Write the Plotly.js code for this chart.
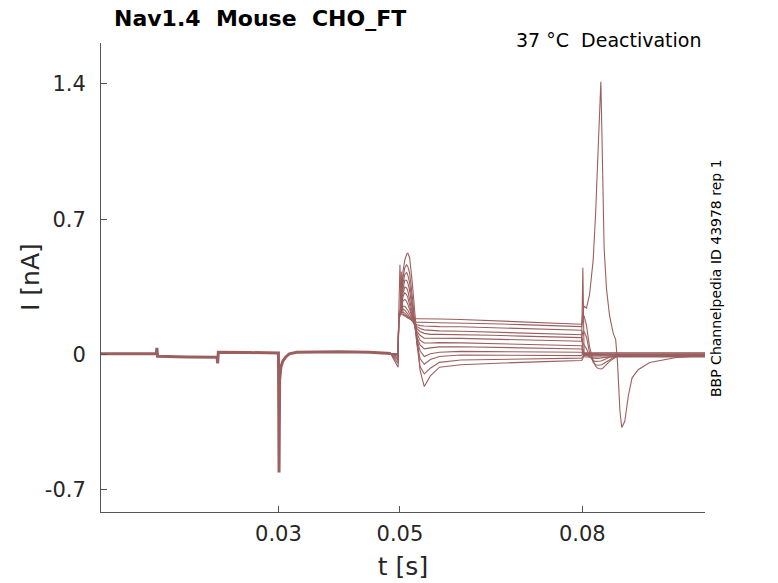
<!DOCTYPE html>
<html>
<head>
<meta charset="utf-8">
<script src="https://cdn.plot.ly/plotly-3.0.1.min.js"></script>
<style>html,body{margin:0;padding:0;background:#fff;}#chart{width:778px;height:583px;}</style>
</head>
<body>
<div id="chart"></div>
<script>
// ---- Data ----
// Common part of all sweeps (0 s .. 0.0485 s)
const tPre = [0.0000, 0.0099, 0.0100, 0.0101, 0.0150, 0.0199, 0.0200, 0.0201, 0.0250, 0.0300, 0.0301, 0.03015, 0.0302, 0.0304, 0.0307, 0.0312, 0.0318, 0.0330, 0.0400, 0.0450, 0.0485];
const iPre = [0.005, 0.005, 0.035, -0.008, -0.012, -0.014, -0.045, 0.012, 0.011, 0.008, -0.61, -0.25, -0.13, -0.065, -0.035, -0.012, 0.004, 0.012, 0.015, 0.012, 0.006];

// Sweep-specific part (0.0485 s .. end), shared time grid
const tPost = [0.0485, 0.0497, 0.0498, 0.0500, 0.0502, 0.0505, 0.0508, 0.0511, 0.0513, 0.0516, 0.0520, 0.0524, 0.0528, 0.0533, 0.0540, 0.0550, 0.0565,
  0.0600, 0.0650, 0.0700, 0.0750, 0.0799,
  0.0801, 0.0803, 0.0807, 0.0812, 0.0818, 0.0822, 0.0826, 0.0829, 0.08306, 0.0832, 0.0834, 0.0836, 0.0840, 0.0845, 0.0851, 0.0855, 0.0858, 0.0862, 0.0865, 0.0870, 0.0876, 0.0882, 0.0892, 0.0911, 0.0955, 0.1002];

const sweep1 = [0.006, 0.004,
  0.21, 0.465, 0.21, 0.205, 0.20, 0.195, 0.19, 0.19, 0.188, 0.187, 0.186, 0.186, 0.186, 0.185, 0.184,
  0.182, 0.176, 0.170, 0.163, 0.157,
  0.22, 0.25, 0.241, 0.31, 0.49, 0.73, 1.05, 1.317, 1.412, 1.2, 0.80, 0.55, 0.336, 0.20, 0.11, 0.078, -0.04, -0.29, -0.377, -0.345, -0.21, -0.12, -0.078, -0.041, -0.015, -0.005];
const sweep2 = [0.005, 0.003,
  0.21, 0.21, 0.43, 0.21, 0.205, 0.20, 0.19, 0.185, 0.175, 0.17, 0.168, 0.167, 0.166, 0.166, 0.165,
  0.164, 0.160, 0.155, 0.150, 0.145,
  0.18, 0.20, 0.15, 0.04, -0.03, -0.06, -0.072, -0.075, -0.075, -0.074, -0.07, -0.065, -0.05, -0.035, -0.02, -0.012, -0.008, -0.005, -0.004, -0.003, -0.002, -0.002, -0.001, 0.0, 0.002, 0.003];
const sweep3 = [0.004, 0.002,
  0.21, 0.21, 0.215, 0.22, 0.215, 0.205, 0.195, 0.185, 0.17, 0.16, 0.155, 0.15, 0.148, 0.146, 0.145,
  0.144, 0.140, 0.135, 0.130, 0.126,
  0.10, 0.12, 0.09, 0.01, -0.04, -0.052, -0.055, -0.055, -0.054, -0.052, -0.048, -0.044, -0.035, -0.025, -0.014, -0.008, -0.005, -0.003, -0.002, -0.001, 0.0, 0.0, 0.0, 0.0, -0.002, -0.003];
const sweep4 = [0.004, 0.001,
  0.20, 0.21, 0.22, 0.235, 0.23, 0.22, 0.21, 0.195, 0.175, 0.16, 0.145, 0.135, 0.128, 0.125, 0.123,
  0.121, 0.117, 0.112, 0.107, 0.103,
  0.06, 0.05, 0.03, -0.01, -0.03, -0.035, -0.035, -0.034, -0.033, -0.031, -0.028, -0.025, -0.019, -0.013, -0.008, -0.006, -0.005, -0.005, -0.005, -0.006, -0.006, -0.006, -0.006, -0.006, -0.006, -0.006];
const sweep5 = [0.003, 0.0,
  0.20, 0.21, 0.23, 0.25, 0.25, 0.24, 0.23, 0.21, 0.18, 0.155, 0.135, 0.12, 0.11, 0.105, 0.105,
  0.104, 0.100, 0.096, 0.092, 0.088,
  0.03, 0.01, 0.0, -0.012, -0.018, -0.02, -0.02, -0.019, -0.018, -0.017, -0.016, -0.015, -0.013, -0.011, -0.01, -0.01, -0.01, -0.01, -0.01, -0.01, -0.01, -0.01, -0.01, -0.01, -0.01, -0.01];
const sweep6 = [0.005, 0.0,
  0.20, 0.21, 0.23, 0.28, 0.285, 0.275, 0.26, 0.23, 0.19, 0.15, 0.12, 0.10, 0.085, 0.085, 0.085,
  0.084, 0.080, 0.076, 0.072, 0.069,
  0.45, 0.0, 0.005, 0.006, 0.007, 0.007, 0.007, 0.007, 0.007, 0.007, 0.007, 0.007, 0.007, 0.007, 0.007, 0.007, 0.007, 0.007, 0.007, 0.007, 0.007, 0.007, 0.007, 0.007, 0.007, 0.007];
const sweep7 = [0.004, -0.005,
  0.20, 0.21, 0.24, 0.30, 0.32, 0.31, 0.295, 0.26, 0.20, 0.15, 0.11, 0.075, 0.06, 0.06, 0.062,
  0.061, 0.058, 0.054, 0.050, 0.046,
  0.02, -0.004, -0.003, -0.002, -0.002, -0.002, -0.002, -0.002, -0.002, -0.002, -0.002, -0.002, -0.002, -0.002, -0.002, -0.002, -0.002, -0.002, -0.002, -0.002, -0.002, -0.002, -0.002, -0.002, -0.002, -0.002];
const sweep8 = [0.004, -0.01,
  0.20, 0.21, 0.24, 0.32, 0.35, 0.345, 0.33, 0.29, 0.22, 0.15, 0.09, 0.05, 0.03, 0.035, 0.04,
  0.041, 0.038, 0.035, 0.032, 0.029,
  0.01, 0.003, 0.002, 0.002, 0.002, 0.002, 0.002, 0.002, 0.002, 0.002, 0.002, 0.002, 0.002, 0.002, 0.002, 0.002, 0.002, 0.002, 0.002, 0.002, 0.002, 0.002, 0.002, 0.002, 0.002, 0.002];
const sweep9 = [0.004, -0.02,
  0.19, 0.20, 0.24, 0.34, 0.385, 0.385, 0.37, 0.33, 0.24, 0.15, 0.08, 0.02, -0.01, 0.005, 0.012,
  0.017, 0.016, 0.015, 0.013, 0.012,
  0.0, -0.006, -0.006, -0.006, -0.006, -0.006, -0.006, -0.006, -0.006, -0.006, -0.006, -0.006, -0.006, -0.006, -0.006, -0.006, -0.006, -0.006, -0.006, -0.006, -0.006, -0.006, -0.006, -0.006, -0.006, -0.006];
const sweep10 = [0.004, -0.03,
  0.19, 0.20, 0.24, 0.37, 0.415, 0.425, 0.41, 0.37, 0.27, 0.15, 0.06, -0.02, -0.05, -0.025, -0.01,
  -0.002, -0.003, -0.004, -0.004, -0.005,
  0.005, 0.01, 0.01, 0.01, 0.01, 0.01, 0.01, 0.01, 0.01, 0.01, 0.01, 0.01, 0.01, 0.01, 0.01, 0.01, 0.01, 0.01, 0.01, 0.01, 0.01, 0.01, 0.01, 0.01, 0.01, 0.01];
const sweep11 = [0.003, -0.045,
  0.20, 0.21, 0.25, 0.40, 0.45, 0.465, 0.455, 0.42, 0.31, 0.17, 0.05, -0.06, -0.10, -0.07, -0.04,
  -0.028, -0.025, -0.022, -0.020, -0.018,
  -0.01, -0.012, -0.012, -0.012, -0.012, -0.012, -0.012, -0.012, -0.012, -0.012, -0.012, -0.012, -0.012, -0.012, -0.012, -0.012, -0.012, -0.012, -0.012, -0.012, -0.012, -0.012, -0.012, -0.012, -0.012, -0.012];
const sweep12 = [0.003, -0.065,
  0.20, 0.22, 0.26, 0.43, 0.49, 0.52, 0.525, 0.50, 0.38, 0.22, 0.09, -0.08, -0.165, -0.11, -0.065,
  -0.052, -0.045, -0.040, -0.035, -0.030,
  -0.02, 0.0, 0.0, 0.0, 0.0, 0.0, 0.0, 0.0, 0.0, 0.0, 0.0, 0.0, 0.0, 0.0, 0.0, 0.0, 0.0, 0.0, 0.0, 0.0, 0.0, 0.0, 0.0, 0.0, 0.0, 0.0];

const xTicks = [0.03, 0.05, 0.08];
const xTickText = ['0.03', '0.05', '0.08'];
const yTicks = [-0.7, 0, 0.7, 1.4];
const yTickText = ['-0.7', '0', '0.7', '1.4'];

// ---- Build figure ----
const lineColor = 'rgb(155,95,95)';
const sweeps = [sweep1, sweep2, sweep3, sweep4, sweep5, sweep6, sweep7, sweep8, sweep9, sweep10, sweep11, sweep12];
const traces = [{
  x: tPre, y: iPre, type: 'scatter', mode: 'lines',
  line: {color: lineColor, width: 3}, showlegend: false, hoverinfo: 'skip'
}];
sweeps.forEach(s => traces.push({
  x: tPost, y: s, type: 'scatter', mode: 'lines',
  line: {color: lineColor, width: 1.1}, showlegend: false, hoverinfo: 'skip'
}));

const font = 'DejaVu Sans, Arial, sans-serif';
const txt = '#262626';
const axcol = '#555555';

const layout = {
  width: 778, height: 583,
  margin: {l: 101, r: 73, t: 43, b: 71},
  paper_bgcolor: '#ffffff', plot_bgcolor: '#ffffff',
  showlegend: false,
  title: {
    text: '<b>Nav1.4\u00a0 Mouse\u00a0 CHO_FT</b>',
    font: {family: font, size: 22, color: '#000000'},
    x: 114 / 778, xanchor: 'left', xref: 'container',
    y: 1 - 18 / 583, yanchor: 'middle', yref: 'container'
  },
  xaxis: {
    range: [0.0008, 0.1002],
    tickvals: xTicks, ticktext: xTickText,
    ticks: 'inside', ticklen: 6, tickwidth: 1, tickcolor: axcol,
    showline: true, linecolor: axcol, linewidth: 1, mirror: false,
    showgrid: false, zeroline: false,
    tickfont: {family: font, size: 21, color: txt},
    ticklabelstandoff: 3,
    title: {text: 't [s]', font: {family: font, size: 25, color: txt}, standoff: 12}
  },
  yaxis: {
    range: [-0.814, 1.612],
    tickvals: yTicks, ticktext: yTickText,
    ticks: 'inside', ticklen: 6, tickwidth: 1, tickcolor: axcol,
    showline: true, linecolor: axcol, linewidth: 1, mirror: false,
    showgrid: false, zeroline: false,
    tickfont: {family: font, size: 21, color: txt},
    ticklabelstandoff: 10
  },
  annotations: [
    {text: 'I [nA]', xref: 'paper', yref: 'paper',
     x: (30 - 101) / 604, y: (512 - 277) / 469, xanchor: 'center', yanchor: 'middle',
     textangle: -90, showarrow: false, font: {family: font, size: 25, color: txt}},
    {text: '37 °C\u00a0 Deactivation', xref: 'paper', yref: 'paper',
     x: (703 - 101) / 604, y: (512 - 40) / 469, xanchor: 'right', yanchor: 'middle',
     showarrow: false, font: {family: font, size: 19, color: '#000000'}},
    {text: 'BBP Channelpedia ID 43978 rep 1', xref: 'paper', yref: 'paper',
     x: (716 - 101) / 604, y: (512 - 278) / 469, xanchor: 'center', yanchor: 'middle',
     textangle: -90, showarrow: false, font: {family: font, size: 14, color: '#000000'}}
  ]
};

Plotly.newPlot('chart', traces, layout, {displayModeBar: false, staticPlot: true});
</script>
</body>
</html>
